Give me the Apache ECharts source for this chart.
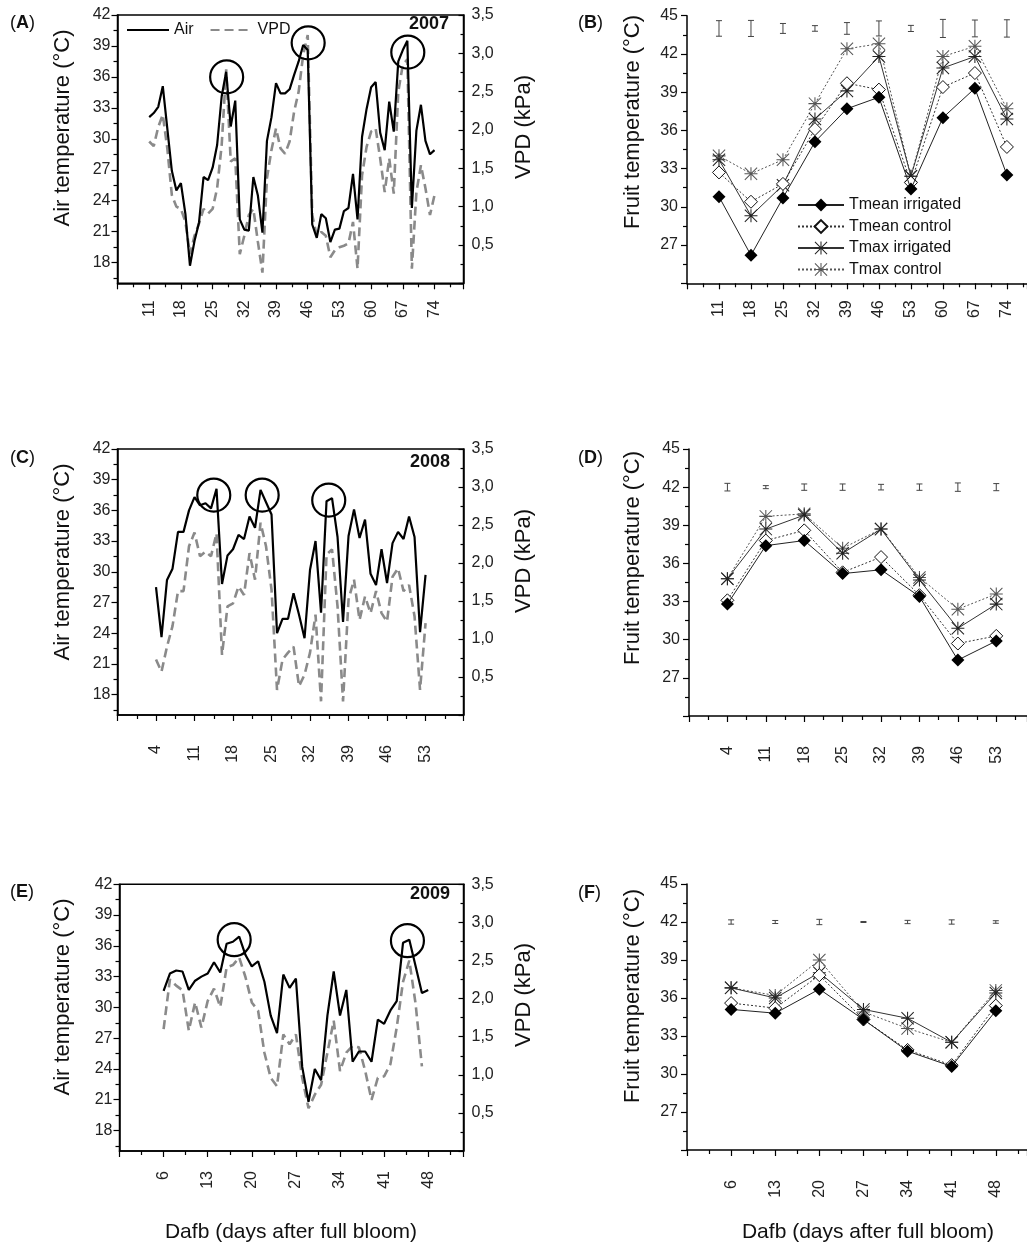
<!DOCTYPE html>
<html>
<head>
<meta charset="utf-8">
<script src="https://cdn.jsdelivr.net/npm/echarts@6/dist/echarts.min.js"></script>
<style>
html, body { margin: 0; padding: 0; background: #fff; }
#chart { width: 1027px; height: 1245px; }
</style>
</head>
<body>
<div id="chart"></div>
<script>
var FONT = 'Liberation Sans';

// ---- daily air temperature (°C) and VPD (kPa) ----
var startA = 11;
var airA = [32.1, 32.5, 33.1, 35.1, 31.0, 26.9, 25.0, 25.7, 22.7, 17.7,
    20.1, 21.9, 26.3, 26.0, 27.2, 29.4, 34.1, 36.5, 31.2, 33.7,
    22.2, 21.2, 21.1, 26.3, 24.5, 20.9, 29.8, 32.1, 35.4, 34.4,
    34.4, 34.8, 36.2, 37.5, 39.1, 38.6, 21.7, 20.4, 22.7, 22.3,
    20.0, 21.2, 21.3, 23.0, 23.3, 26.6, 22.2, 30.2, 32.9, 35.0,
    35.5, 30.6, 28.9, 33.6, 30.7, 37.5, 38.6, 39.5, 23.3, 30.8,
    33.3, 29.8, 28.5, 28.9];
var vpdA = [1.85, 1.79, 2.04, 2.2, 1.76, 1.15, 1.0, 0.97, 0.8, 0.38,
    0.62, 0.78, 0.97, 0.91, 0.97, 1.24, 1.80, 2.79, 1.59, 1.63,
    0.38, 0.62, 0.89, 0.97, 0.54, 0.14, 1.37, 1.74, 2.02, 1.76,
    1.69, 1.85, 2.24, 2.5, 2.98, 3.24, 0.89, 0.62, 0.67, 0.62,
    0.34, 0.43, 0.47, 0.49, 0.52, 0.8, 0.19, 1.41, 1.78, 1.98,
    2.02, 1.63, 1.19, 1.63, 1.17, 2.5, 2.85, 2.92, 0.19, 1.19,
    1.54, 1.24, 0.89, 1.15];
var circlesA = [[28.1, 36.0], [46.1, 39.3], [68.1, 38.4]];

var startC = 4;
var airC = [28.5, 23.6, 29.2, 30.3, 33.9, 33.9, 36.0, 37.3, 36.5, 36.7,
    36.2, 38.1, 28.8, 31.6, 32.2, 33.6, 33.2, 35.4, 34.3, 38.0,
    36.8, 35.6, 24.0, 25.4, 25.4, 27.9, 25.8, 23.5, 30.2, 33.0,
    26.0, 36.9, 37.2, 33.4, 25.1, 33.5, 36.1, 33.3, 35.1, 29.8,
    28.7, 32.2, 28.9, 32.8, 33.9, 33.2, 35.4, 33.4, 24.1, 29.7];
var vpdC = [0.73, 0.57, 0.9, 1.17, 1.63, 1.63, 2.22, 2.4, 2.09, 2.15,
    2.09, 2.39, 0.79, 1.43, 1.47, 1.69, 1.58, 2.13, 1.78, 2.53,
    2.22, 1.65, 0.33, 0.73, 0.82, 0.9, 0.38, 0.53, 0.82, 1.32,
    0.18, 2.11, 2.18, 1.43, 0.18, 1.52, 1.78, 1.25, 1.56, 1.34,
    1.63, 1.34, 1.23, 1.82, 1.93, 1.63, 1.71, 1.3, 0.33, 1.21];
var circlesC = [[14.5, 37.5], [23.3, 37.5], [35.4, 37.0]];

var startE = 6;
var airE = [31.6, 33.3, 33.6, 33.5, 31.7, 32.6, 33.0, 33.3, 34.4, 33.4,
    36.2, 36.4, 36.9, 35.1, 34.0, 34.5, 32.5, 29.2, 27.5, 33.2,
    31.9, 32.8, 24.2, 20.8, 24.0, 22.9, 29.2, 33.5, 29.2, 31.7,
    24.7, 25.7, 25.7, 24.7, 28.8, 28.4, 29.7, 30.6, 36.3, 36.6,
    34.0, 31.4, 31.7];
var vpdE = [1.6, 2.25, 2.17, 2.11, 1.58, 1.95, 1.62, 1.97, 2.13, 1.89,
    2.41, 2.44, 2.54, 2.28, 1.95, 1.84, 1.29, 0.96, 0.85, 1.53,
    1.4, 1.53, 0.96, 0.56, 0.74, 0.87, 1.29, 1.71, 1.05, 1.29,
    1.38, 1.36, 1.05, 0.67, 0.96, 0.98, 1.14, 1.62, 2.22, 2.5,
    1.93, 1.11, null];
var circlesE = [[17.2, 36.6], [44.7, 36.5]];

// ---- fruit temperature (°C) ----
var daysB = [11, 18, 25, 32, 39, 46, 53, 60, 67, 74];
var tmeanIrrB = [30.8, 26.2, 30.7, 35.1, 37.7, 38.6, 31.4, 37.0, 39.3, 32.5];
var tmeanCtrlB = [32.7, 30.4, 31.8, 36.1, 39.7, 39.2, 31.9, 39.4, 40.5, 34.7];
var tmaxIrrB = [33.7, 29.3, 31.7, 36.9, 39.1, 41.8, 32.4, 40.9, 41.8, 36.9];
var tmaxCtrlB = [34.0, 32.6, 33.7, 38.1, 42.4, 42.8, 32.4, 41.8, 42.6, 37.7];
var barMidB = 44;
var barHalfB = [0.61, 0.63, 0.39, 0.22, 0.46, 0.59, 0.24, 0.71, 0.66, 0.68];

var daysD = [4, 11, 18, 25, 32, 39, 46, 53];
var tmeanIrrD = [32.8, 37.4, 37.8, 35.2, 35.5, 33.4, 28.4, 29.9];
var tmeanCtrlD = [33.1, 37.8, 38.6, 35.3, 36.5, 33.5, 29.7, 30.3];
var tmaxIrrD = [34.8, 38.7, 39.8, 36.8, 38.7, 34.7, 30.9, 32.8];
var tmaxCtrlD = [34.8, 39.7, 39.9, 37.2, 38.7, 34.9, 32.4, 33.6];
var barMidD = 42;
var barHalfD = [0.3, 0.12, 0.25, 0.25, 0.22, 0.25, 0.33, 0.28];

var daysF = [6, 13, 20, 27, 34, 41, 48];
var tmeanIrrF = [35.1, 34.8, 36.7, 34.3, 31.8, 30.6, 35.0];
var tmeanCtrlF = [35.6, 35.2, 37.8, 34.3, 31.9, 30.7, 35.4];
var tmaxIrrF = [36.8, 36.0, 38.0, 35.1, 34.4, 32.5, 36.4];
var tmaxCtrlF = [36.8, 36.2, 39.0, 34.9, 33.6, 32.5, 36.6];
var barMidF = 42;
var barHalfF = [0.17, 0.12, 0.21, 0.04, 0.13, 0.17, 0.1];

// tick labels
var airTicks = [18, 21, 24, 27, 30, 33, 36, 39, 42];
var airMinor = [16.5, 19.5, 22.5, 25.5, 28.5, 31.5, 34.5, 37.5, 40.5];

var STAR = 'path://M9.2,0H10.8V20H9.2Z M0,9.2H20V10.8H0Z M1.1,0L20,18.9L18.9,20L0,1.1Z M18.9,0L20,1.1L1.1,20L0,18.9Z';

var chart = echarts.init(document.getElementById('chart'));
var grids = [], xAxes = [], yAxes = [], series = [];

function addGrid(left, top, width, height, box) {
    grids.push({left: left, top: top, width: width, height: height, show: box,
        borderColor: '#000', borderWidth: 1.5, backgroundColor: 'transparent'});
    return grids.length - 1;
}

function addX(g, min, max, margin) {
    xAxes.push({
        type: 'value', gridIndex: g, min: min, max: max, interval: 7, position: 'bottom',
        axisLine: {show: true, onZero: false, lineStyle: {color: '#000', width: 1.5}},
        axisTick: {show: true, length: 6, lineStyle: {color: '#000', width: 1.2}},
        minorTick: {show: true, splitNumber: 2, length: 4, lineStyle: {color: '#000', width: 1.2}},
        splitLine: {show: false},
        axisLabel: {rotate: 90, margin: margin, fontSize: 16, color: '#222', fontFamily: FONT,
            showMinLabel: false, showMaxLabel: false}
    });
    return xAxes.length - 1;
}

function addAirY(g) {
    yAxes.push({
        type: 'value', gridIndex: g, min: 16, max: 42, position: 'left',
        axisLine: {show: true, onZero: false, lineStyle: {color: '#000', width: 1.5}},
        axisTick: {show: true, length: 6, customValues: airTicks, lineStyle: {color: '#000', width: 1.2}},
        axisLabel: {customValues: airTicks, margin: 7, fontSize: 16, color: '#222', fontFamily: FONT},
        splitLine: {show: false}
    });
    var main = yAxes.length - 1;
    // shorter in-between ticks
    yAxes.push({
        type: 'value', gridIndex: g, min: 16, max: 42, position: 'left',
        axisLine: {show: false, onZero: false},
        axisTick: {show: true, length: 4, customValues: airMinor, lineStyle: {color: '#000', width: 1.2}},
        axisLabel: {show: false},
        splitLine: {show: false}
    });
    return main;
}

function addVpdY(g) {
    yAxes.push({
        type: 'value', gridIndex: g, min: 0, max: 3.5, interval: 0.5, position: 'right',
        axisLine: {show: true, onZero: false, lineStyle: {color: '#000', width: 1.5}},
        axisTick: {show: true, inside: true, length: 5, lineStyle: {color: '#000', width: 1.2}},
        minorTick: {show: true, splitNumber: 2, length: 3, lineStyle: {color: '#000', width: 1.2}},
        axisLabel: {margin: 8, fontSize: 16, color: '#222', fontFamily: FONT, showMinLabel: false,
            formatter: function (v) { return v.toFixed(1).replace('.', ','); }},
        splitLine: {show: false}
    });
    return yAxes.length - 1;
}

function addFruitY(g) {
    yAxes.push({
        type: 'value', gridIndex: g, min: 24, max: 45, interval: 3, position: 'left',
        axisLine: {show: true, onZero: false, lineStyle: {color: '#000', width: 1.5}},
        axisTick: {show: true, length: 6, lineStyle: {color: '#000', width: 1.2}},
        minorTick: {show: true, splitNumber: 2, length: 4, lineStyle: {color: '#000', width: 1.2}},
        axisLabel: {margin: 9, fontSize: 16, color: '#222', fontFamily: FONT, showMinLabel: false},
        splitLine: {show: false}
    });
    return yAxes.length - 1;
}

function weatherPanel(box, xmin, xmax, margin, start, air, vpd, circles) {
    var g = addGrid(box[0], box[1], box[2], box[3], true);
    var xi = addX(g, xmin, xmax, margin);
    var yl = addAirY(g);
    var yr = addVpdY(g);
    series.push({
        name: 'VPD', type: 'line', xAxisIndex: xi, yAxisIndex: yr, symbol: 'none', z: 2,
        data: vpd.map(function (v, i) { return [start + i, v]; }),
        lineStyle: {color: '#8a8a8a', width: 2.6, type: [9, 5]}, itemStyle: {color: '#8a8a8a'}
    });
    series.push({
        name: 'Air', type: 'line', xAxisIndex: xi, yAxisIndex: yl, symbol: 'none', z: 3,
        data: air.map(function (v, i) { return [start + i, v]; }),
        lineStyle: {color: '#000', width: 2.2}, itemStyle: {color: '#000'},
        markPoint: {
            symbol: 'circle', symbolSize: 33, silent: true,
            itemStyle: {color: 'rgba(0,0,0,0)', borderColor: '#000', borderWidth: 2.2},
            label: {show: false},
            data: circles.map(function (c) { return {coord: c}; })
        }
    });
}

function errBars(params, api) {
    var x = api.value(0), c = api.value(1), h = api.value(2);
    var top = api.coord([x, c + h]);
    var bot = api.coord([x, c - h]);
    var st = {stroke: '#444', lineWidth: 1};
    return {type: 'group', children: [
        {type: 'line', shape: {x1: top[0], y1: top[1], x2: bot[0], y2: bot[1]}, style: st},
        {type: 'line', shape: {x1: top[0] - 3, y1: top[1], x2: top[0] + 3, y2: top[1]}, style: st},
        {type: 'line', shape: {x1: bot[0] - 3, y1: bot[1], x2: bot[0] + 3, y2: bot[1]}, style: st}
    ]};
}

function fruitPanel(box, xmin, xmax, margin, days, tmi, tmc, txi, txc, mid, half) {
    var g = addGrid(box[0], box[1], box[2], box[3], false);
    var xi = addX(g, xmin, xmax, margin);
    var yi = addFruitY(g);
    function pts(arr) { return arr.map(function (v, i) { return [days[i], v]; }); }
    series.push({name: 'Tmax control', type: 'line', xAxisIndex: xi, yAxisIndex: yi, data: pts(txc),
        symbol: STAR, symbolSize: 13, symbolKeepAspect: true, z: 2,
        lineStyle: {color: '#555', width: 1, type: [2, 2]}, itemStyle: {color: '#555'}});
    series.push({name: 'Tmax irrigated', type: 'line', xAxisIndex: xi, yAxisIndex: yi, data: pts(txi),
        symbol: STAR, symbolSize: 13, symbolKeepAspect: true, z: 3,
        lineStyle: {color: '#333', width: 1}, itemStyle: {color: '#222'}});
    series.push({name: 'Tmean control', type: 'line', xAxisIndex: xi, yAxisIndex: yi, data: pts(tmc),
        symbol: 'diamond', symbolSize: 13, z: 4,
        lineStyle: {color: '#333', width: 1, type: [2, 2]},
        itemStyle: {color: '#fff', borderColor: '#111', borderWidth: 1}});
    series.push({name: 'Tmean irrigated', type: 'line', xAxisIndex: xi, yAxisIndex: yi, data: pts(tmi),
        symbol: 'diamond', symbolSize: 13, z: 5,
        lineStyle: {color: '#222', width: 1}, itemStyle: {color: '#000'}});
    series.push({type: 'custom', xAxisIndex: xi, yAxisIndex: yi, renderItem: errBars, z: 1,
        data: days.map(function (d, i) { return [d, mid, half[i]]; })});
}

weatherPanel([117.5, 15, 346, 268.3], 4, 80.4, 17, startA, airA, vpdA, circlesA);
weatherPanel([117.5, 449, 346, 266], -3, 59.9, 30, startC, airC, vpdC, circlesC);
weatherPanel([119.5, 884.3, 344, 266.7], -1, 53.6, 20, startE, airE, vpdE, circlesE);
fruitPanel([687, 15.7, 340, 267.6], 4, 78.4, 17, daysB, tmeanIrrB, tmeanCtrlB, tmaxIrrB, tmaxCtrlB, barMidB, barHalfB);
fruitPanel([689, 449, 338, 267], -3, 58.6, 30, daysD, tmeanIrrD, tmeanCtrlD, tmaxIrrD, tmaxCtrlD, barMidD, barHalfD);
fruitPanel([687, 884, 340, 266], -1, 52.95, 30, daysF, tmeanIrrF, tmeanCtrlF, tmaxIrrF, tmaxCtrlF, barMidF, barHalfF);

function label(x, y, text, size, rot, weight, align) {
    return {type: 'text', x: x, y: y, rotation: rot || 0, silent: true,
        style: {text: text, fill: '#111', fontSize: size, fontFamily: FONT, fontWeight: weight || 'normal',
            align: align || 'center', verticalAlign: 'middle',
            textAlign: align || 'center', textVerticalAlign: 'middle'}};
}
function panelTag(x, y, letter) {
    return {type: 'text', x: x, y: y, silent: true,
        style: {text: '{p|(}{b|' + letter + '}{p|)}', verticalAlign: 'middle', textVerticalAlign: 'middle',
            rich: {p: {fontSize: 18, fontFamily: FONT, fill: '#111'},
                   b: {fontSize: 18, fontFamily: FONT, fontWeight: 'bold', fill: '#111'}}}};
}
var R = Math.PI / 2;
var graphics = [
    panelTag(10, 23, 'A'), panelTag(578, 23, 'B'),
    panelTag(10, 458, 'C'), panelTag(578, 458, 'D'),
    panelTag(10, 892, 'E'), panelTag(578, 893, 'F'),
    label(449, 24, '2007', 18, 0, 'bold', 'right'),
    label(450, 462, '2008', 18, 0, 'bold', 'right'),
    label(450, 894, '2009', 18, 0, 'bold', 'right'),
    label(62.5, 128, 'Air temperature (°C)', 22, R),
    label(62.5, 562, 'Air temperature (°C)', 22, R),
    label(62.5, 997, 'Air temperature (°C)', 22, R),
    label(524, 127, 'VPD (kPa)', 22, R),
    label(524, 561, 'VPD (kPa)', 22, R),
    label(524, 995, 'VPD (kPa)', 22, R),
    label(633, 122, 'Fruit temperature (°C)', 22, R),
    label(633, 558, 'Fruit temperature (°C)', 22, R),
    label(633, 996, 'Fruit temperature (°C)', 22, R),
    label(291, 1232, 'Dafb (days after full bloom)', 21),
    label(868, 1232, 'Dafb (days after full bloom)', 21)
];

var option = {
    animation: false,
    backgroundColor: '#fff',
    textStyle: {fontFamily: FONT},
    grid: grids,
    xAxis: xAxes,
    yAxis: yAxes,
    legend: [{
        left: 126, top: 22, padding: 0, itemWidth: 42, itemHeight: 14, itemGap: 16,
        data: ['Air', 'VPD'], selectedMode: false,
        itemStyle: {opacity: 0},
        textStyle: {fontSize: 16, fontFamily: FONT, color: '#111'}
    }, {
        left: 797, top: 197, padding: 0, orient: 'vertical', itemWidth: 46, itemHeight: 16, itemGap: 5.5,
        data: ['Tmean irrigated', 'Tmean control', 'Tmax irrigated', 'Tmax control'], selectedMode: false,
        textStyle: {fontSize: 16, fontFamily: FONT, color: '#111'}
    }],
    graphic: graphics,
    series: series
};
chart.setOption(option);
</script>
</body>
</html>
